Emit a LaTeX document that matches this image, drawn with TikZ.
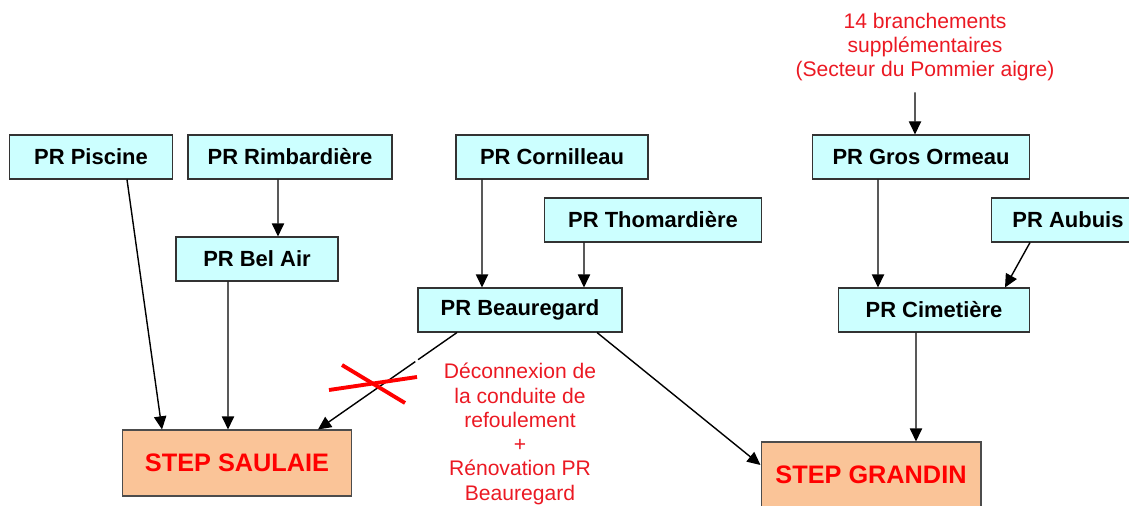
\documentclass[tikz,border=0pt]{standalone}
\usepackage{fontspec}
\setmainfont{Liberation Sans}
\usetikzlibrary{arrows.meta,calc}

\definecolor{prcyan}{RGB}{204,255,255}
\definecolor{steporange}{RGB}{250,196,152}
\definecolor{noteRed}{RGB}{235,25,35}

\begin{document}
\begin{tikzpicture}[x=0.02cm, y=-0.02cm,
  pr/.style={draw=black!80, fill=prcyan, line width=0.6pt, minimum height=0.88cm, inner sep=0pt,
    font=\fontsize{12.5}{14}\selectfont\bfseries},
  stepbox/.style={draw=black!70, fill=steporange, line width=0.6pt, minimum height=1.32cm, inner sep=0pt,
    text=red, font=\fontsize{14.4}{16}\selectfont\bfseries},
  flow/.style={-{Triangle[length=7.5pt,width=7pt]}, line width=0.8pt},
  note/.style={text=noteRed, align=center, font=\fontsize{12}{13.8}\selectfont}]

  \useasboundingbox (0,0) rectangle (1129,506);

  % -- Pumping stations --
  \node[pr, minimum width=3.26cm] (piscine) at (91,157) {PR Piscine};
  \node[pr, minimum width=4.08cm] (rimb) at (290,157) {PR Rimbardière};
  \node[pr, minimum width=3.24cm] (belair) at (257,259) {PR Bel Air};
  \node[pr, minimum width=3.84cm] (corni) at (552,157) {PR Cornilleau};
  \node[pr, minimum width=4.34cm] (thomar) at (653,220) {PR Thomardière};
  \node[pr, minimum width=4.08cm] (beaur) at (520,310) {PR Beauregard};
  \node[pr, minimum width=4.34cm] (gros) at (921,157) {PR Gros Ormeau};
  \node[pr, minimum width=3.08cm] (aubuis) at (1068,220) {PR Aubuis};
  \node[pr, minimum width=3.82cm] (cimet) at (934,310) {PR Cimetière};

  % -- Treatment plants --
  \node[stepbox, minimum width=4.58cm] (saulaie) at (237,463) {STEP SAULAIE};
  \node[stepbox, minimum width=4.4cm] (grandin) at (871,475) {STEP GRANDIN};

  % -- Notes --
  \node[note] (branch) at (925,47) {14 branchements\\supplémentaires\\(Secteur du Pommier aigre)};
  \node[note] (deco) at (520,434) {Déconnexion de\\la conduite de\\refoulement\\+\\Rénovation PR\\Beauregard};

  % -- Connections --
  \draw[flow] ([xshift=0.72cm]piscine.south) -- ([xshift=-1.5cm]saulaie.north);
  \draw[flow] ([xshift=-0.24cm]rimb.south) -- ([xshift=0.42cm]belair.north);
  \draw[flow] ([xshift=-0.58cm]belair.south) -- ([xshift=-0.18cm]saulaie.north);
  \draw[flow] ([xshift=-1.4cm]corni.south) -- ([xshift=-0.76cm]beaur.north);
  \draw[flow] ([xshift=-1.38cm]thomar.south) -- ([xshift=1.28cm]beaur.north);
  \draw[flow] ([xshift=-0.86cm]gros.south) -- ([xshift=-1.12cm]cimet.north);
  \draw[flow] ([xshift=-0.76cm]aubuis.south) -- ([xshift=1.42cm]cimet.north);
  \draw[flow] ([xshift=-0.36cm]cimet.south) -- ([xshift=0.9cm]grandin.north);
  \draw[flow] ([xshift=1.54cm]beaur.south) -- ([yshift=0.2cm]grandin.west);
  \draw[flow] ([xshift=-0.2cm,yshift=-0.1cm]branch.south) -- ([xshift=-0.12cm]gros.north);

  % -- Disconnected pipe --
  \coordinate (cutA) at ([xshift=-1.26cm]beaur.south);
  \coordinate (cutB) at ([xshift=1.62cm]saulaie.north);
  \draw[line width=0.8pt] (cutA) -- ($(cutA)!0.28!(cutB)$);
  \draw[flow] ($(cutA)!0.3!(cutB)$) -- (cutB);
  \draw[red, line width=2.2pt] (342,365) -- (405,403);
  \draw[red, line width=2.2pt] (329,390) -- (417,377);

\end{tikzpicture}
\end{document}
